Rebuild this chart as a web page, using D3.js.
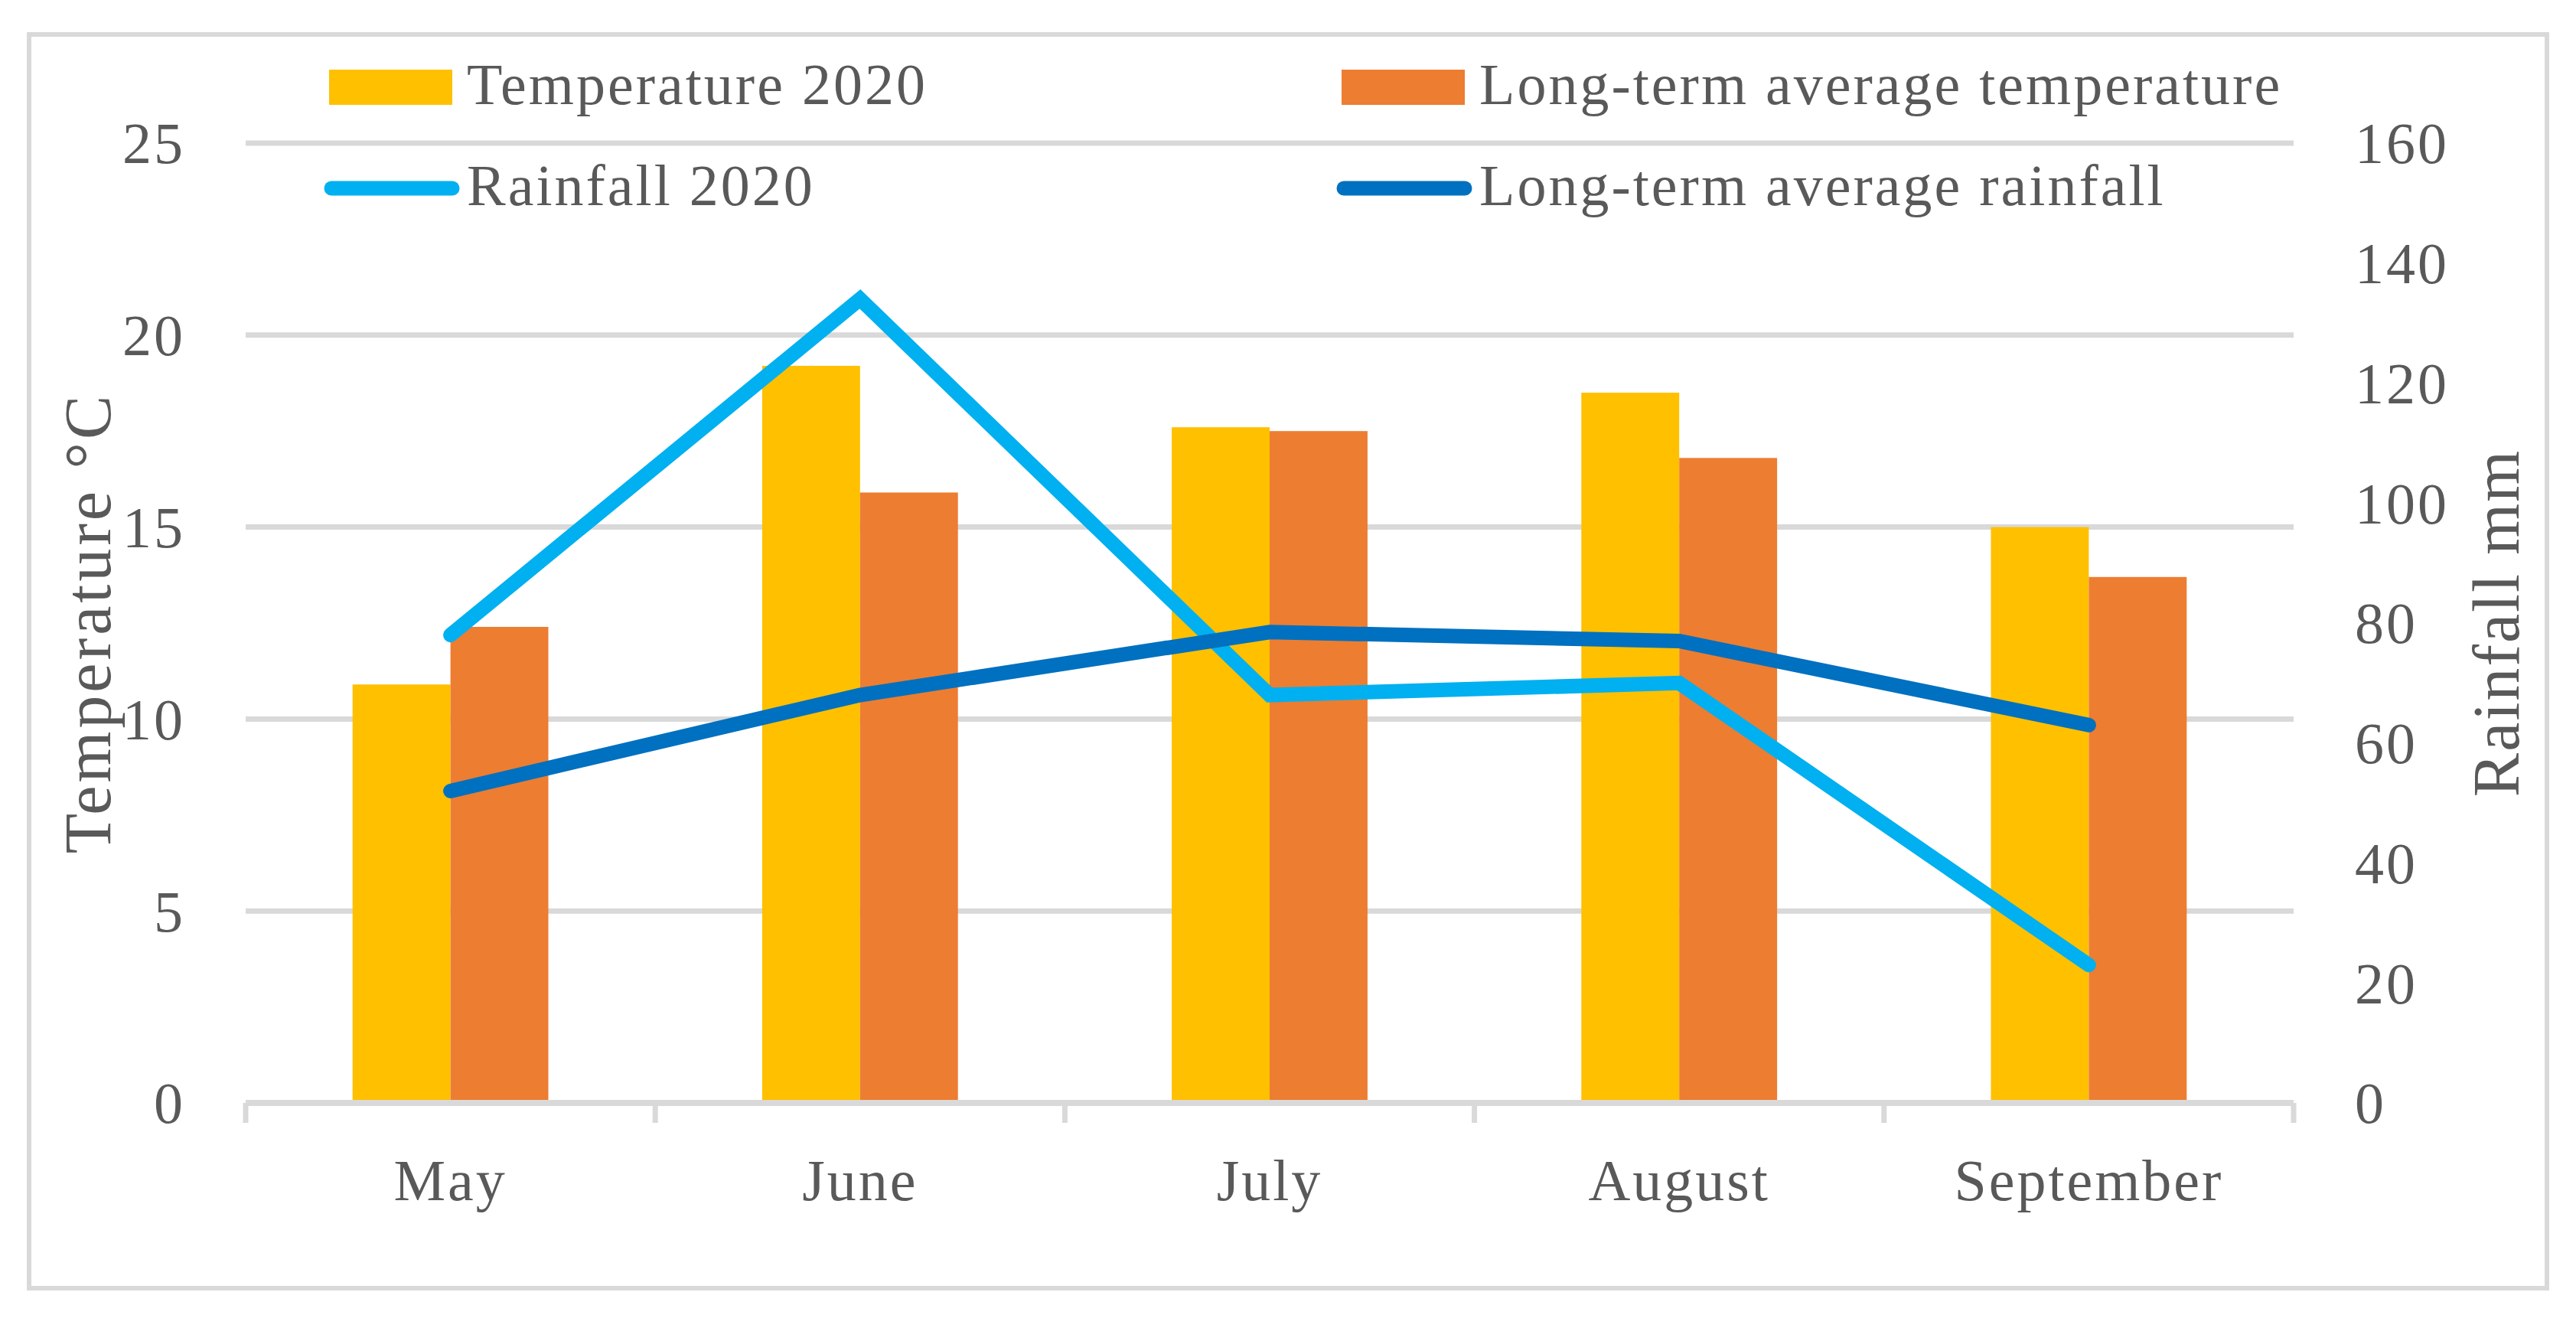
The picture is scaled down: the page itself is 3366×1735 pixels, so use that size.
<!DOCTYPE html>
<html>
<head>
<meta charset="utf-8">
<script src="https://cdn.jsdelivr.net/npm/d3@7/dist/d3.min.js"></script>
<style>
  html, body { margin: 0; padding: 0; background: #ffffff; }
  svg { display: block; }
  text { font-family: "Palatino Linotype", "Book Antiqua", Palatino, "Liberation Serif", serif; fill: #595959; }
</style>
</head>
<body>
<svg id="chart" width="3366" height="1735"></svg>
<script>
// ---- data ----
const months = ["May", "June", "July", "August", "September"];
const temp2020 = [10.9, 19.2, 17.6, 18.5, 15.0];
const tempLongTerm = [12.4, 15.9, 17.5, 16.8, 13.7];
const rain2020 = [78, 134, 68, 70, 23];
const rainLongTerm = [52, 68, 78.5, 77, 63];
const tempTicks = [0, 5, 10, 15, 20, 25];
const rainTicks = [0, 20, 40, 60, 80, 100, 120, 140, 160];
const barSeries = ["Temperature 2020", "Long-term average temperature"];
const lineSeries = ["Rainfall 2020", "Long-term average rainfall"];

// ---- styling ----
const W = 3366, H = 1735;
const plot = { left: 321, right: 2997, top: 187, bottom: 1441 };
const colors = {
  "Temperature 2020": "#FFC000",
  "Long-term average temperature": "#ED7D31",
  "Rainfall 2020": "#00B0F0",
  "Long-term average rainfall": "#0070C0"
};
const gridColor = "#D9D9D9";
const fontSize = 76;
const titleSize = 86;
const letterSp = 3;

const svg = d3.select("#chart");
svg.append("rect").attr("width", W).attr("height", H).attr("fill", "#fff");

// outer border
svg.append("rect")
  .attr("x", 38).attr("y", 45).attr("width", 3328 - 38).attr("height", 1683 - 45)
  .attr("fill", "none").attr("stroke", gridColor).attr("stroke-width", 6);

// scales
const x0 = d3.scaleBand().domain(months).range([plot.left, plot.right])
  .paddingInner(0.522).paddingOuter(0.261);
const x1 = d3.scaleBand().domain(barSeries).range([0, x0.bandwidth()]);
const yT = d3.scaleLinear().domain([0, 25]).range([plot.bottom, plot.top]);
const yR = d3.scaleLinear().domain([0, 160]).range([plot.bottom, plot.top]);

// gridlines
svg.append("g").selectAll("line").data(tempTicks.filter(d => d > 0)).join("line")
  .attr("x1", plot.left).attr("x2", plot.right)
  .attr("y1", d => yT(d)).attr("y2", d => yT(d))
  .attr("stroke", gridColor).attr("stroke-width", 7);

// bars
const barData = [];
months.forEach((m, i) => {
  barData.push({ m, s: barSeries[0], v: temp2020[i] });
  barData.push({ m, s: barSeries[1], v: tempLongTerm[i] });
});
svg.append("g").selectAll("rect").data(barData).join("rect")
  .attr("x", d => x0(d.m) + x1(d.s))
  .attr("width", x1.bandwidth())
  .attr("y", d => yT(d.v))
  .attr("height", d => yT(0) - yT(d.v))
  .attr("fill", d => colors[d.s]);

// category axis line + ticks
const step = x0.step();
svg.append("line")
  .attr("x1", plot.left).attr("x2", plot.right)
  .attr("y1", yT(0)).attr("y2", yT(0))
  .attr("stroke", gridColor).attr("stroke-width", 8);
svg.append("g").selectAll("line").data(d3.range(months.length + 1)).join("line")
  .attr("x1", i => plot.left + i * step).attr("x2", i => plot.left + i * step)
  .attr("y1", yT(0)).attr("y2", yT(0) + 26)
  .attr("stroke", gridColor).attr("stroke-width", 7);

// month labels
svg.append("g").selectAll("text").data(months).join("text")
  .attr("x", d => x0(d) + x0.bandwidth() / 2)
  .attr("y", 1568)
  .attr("text-anchor", "middle")
  .attr("font-size", fontSize).attr("letter-spacing", letterSp)
  .text(d => d);

// lines
const line = d3.line().x(d => x0(d.m) + x0.bandwidth() / 2).y(d => yR(d.v));
const lineData = [
  { s: lineSeries[0], vals: months.map((m, i) => ({ m, v: rain2020[i] })) },
  { s: lineSeries[1], vals: months.map((m, i) => ({ m, v: rainLongTerm[i] })) }
];
svg.append("g").selectAll("path").data(lineData).join("path")
  .attr("d", d => line(d.vals))
  .attr("fill", "none")
  .attr("stroke", d => colors[d.s])
  .attr("stroke-width", 19)
  .attr("stroke-linecap", "round")
  .attr("stroke-linejoin", "miter");

// left axis labels
const axL = d3.axisLeft(yT).tickValues(tempTicks).tickSize(0).tickPadding(79);
const gL = svg.append("g").attr("transform", `translate(${plot.left},0)`).call(axL);
gL.select(".domain").remove();
gL.selectAll("text").attr("font-size", fontSize).attr("letter-spacing", letterSp)
  .attr("font-family", null).attr("fill", "#595959").attr("dy", "0.34em");

// right axis labels
const axR = d3.axisRight(yR).tickValues(rainTicks).tickSize(0).tickPadding(80);
const gR = svg.append("g").attr("transform", `translate(${plot.right},0)`).call(axR);
gR.select(".domain").remove();
gR.selectAll("text").attr("font-size", fontSize).attr("letter-spacing", letterSp)
  .attr("font-family", null).attr("fill", "#595959").attr("dy", "0.34em");

// axis titles
svg.append("text")
  .attr("transform", `translate(144, ${(plot.top + plot.bottom) / 2}) rotate(-90)`)
  .attr("text-anchor", "middle")
  .attr("font-size", titleSize).attr("letter-spacing", 4)
  .text("Temperature °C");
svg.append("text")
  .attr("transform", `translate(3291, ${(plot.top + plot.bottom) / 2}) rotate(-90)`)
  .attr("text-anchor", "middle")
  .attr("font-size", titleSize).attr("letter-spacing", 2)
  .text("Rainfall mm");

// legend
const legendItems = [
  { s: barSeries[0], type: "bar", x: 430, y: 114 },
  { s: barSeries[1], type: "bar", x: 1753, y: 114 },
  { s: lineSeries[0], type: "line", x: 430, y: 246 },
  { s: lineSeries[1], type: "line", x: 1753, y: 246 }
];
const lg = svg.append("g").selectAll("g").data(legendItems).join("g")
  .attr("transform", d => `translate(${d.x},${d.y})`);
lg.filter(d => d.type === "bar").append("rect")
  .attr("x", 0).attr("y", -23).attr("width", 161).attr("height", 46)
  .attr("fill", d => colors[d.s]);
lg.filter(d => d.type === "line").append("line")
  .attr("x1", 3).attr("x2", 161).attr("y1", 0).attr("y2", 0)
  .attr("stroke", d => colors[d.s]).attr("stroke-width", 19).attr("stroke-linecap", "round");
lg.append("text")
  .attr("x", 180).attr("y", 22)
  .attr("font-size", fontSize).attr("letter-spacing", letterSp)
  .text(d => d.s);
</script>
</body>
</html>
